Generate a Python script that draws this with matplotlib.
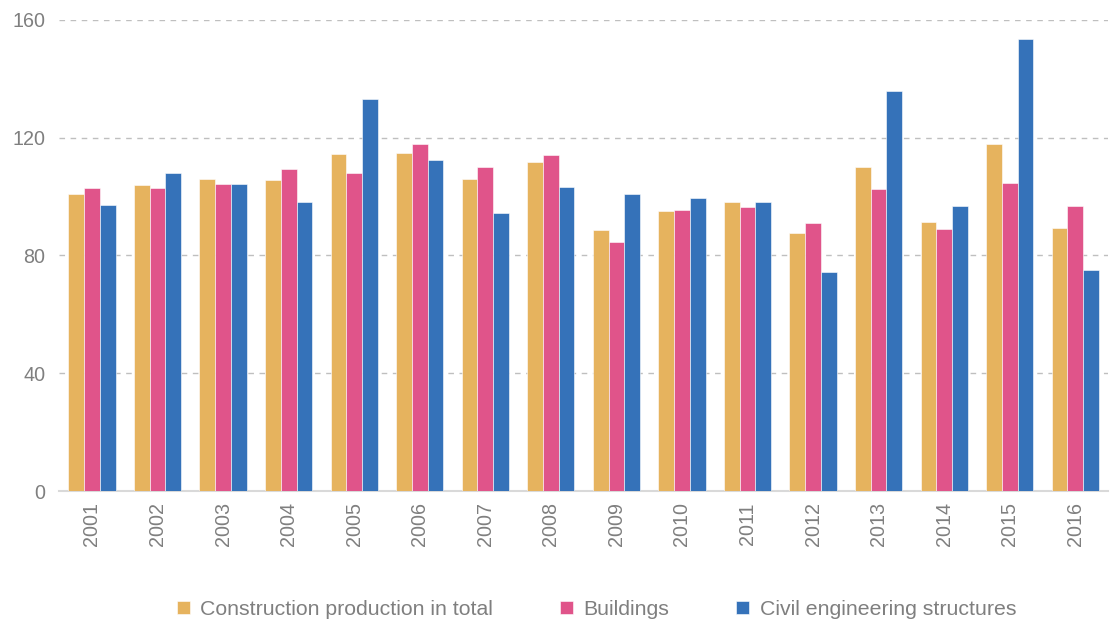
import numpy as np
import matplotlib.pyplot as plt

plt.rcParams['font.family'] = ['Liberation Sans', 'DejaVu Sans']

years = ['2001', '2002', '2003', '2004', '2005', '2006', '2007', '2008',
         '2009', '2010', '2011', '2012', '2013', '2014', '2015', '2016']
total = [100.8, 103.9, 105.9, 105.6, 114.5, 114.9, 105.8, 111.8,
         88.6, 95.2, 98.1, 87.6, 110.0, 91.3, 117.9, 89.3]
buildings = [102.8, 102.9, 104.2, 109.3, 108.0, 117.7, 110.2, 114.0,
             84.7, 95.4, 96.6, 91.1, 102.5, 89.0, 104.6, 96.8]
civil = [97.3, 107.9, 104.3, 98.1, 133.2, 112.4, 94.5, 103.2,
         100.8, 99.5, 98.1, 74.4, 136.0, 96.8, 153.5, 75.0]

series = [('Construction production in total', total, '#E6B35E'),
          ('Buildings', buildings, '#E0548A'),
          ('Civil engineering structures', civil, '#3572B9')]

gray = '#7f7f7f'

fig = plt.figure(figsize=(11.17, 6.22), dpi=100)
ax = fig.add_axes([0.053, 0.2106, 0.939, 0.7574])

x = np.arange(len(years))
w = 0.24
for i, (name, vals, col) in enumerate(series):
    ax.bar(x + (i - 1) * w, vals, width=w, color=col, label=name,
           edgecolor='white', linewidth=0.4, zorder=3)

ax.set_xlim(-0.5, len(years) - 0.5)
ax.set_ylim(0, 160)
ax.set_yticks([0, 40, 80, 120, 160])
ax.yaxis.grid(True, linestyle=(0, (4, 4)), color='#bfbfbf', linewidth=1, zorder=0)
ax.set_xticks(x)
ax.set_xticklabels(years, rotation=90)
ax.tick_params(axis='both', length=0, labelsize=14.2, labelcolor=gray)
ax.tick_params(axis='x', pad=8)
ax.tick_params(axis='y', pad=10)

for s in ['top', 'right', 'left']:
    ax.spines[s].set_visible(False)
ax.spines['bottom'].set_color('#d9d9d9')
ax.spines['bottom'].set_linewidth(1.5)

leg = fig.legend(loc='center', bbox_to_anchor=(0.534, 0.02), ncol=3,
                 frameon=False, fontsize=15.3, handlelength=0.6, handleheight=0.6,
                 handletextpad=0.5, columnspacing=3.15, labelcolor=gray)

fig.savefig('out.png', dpi=100)
